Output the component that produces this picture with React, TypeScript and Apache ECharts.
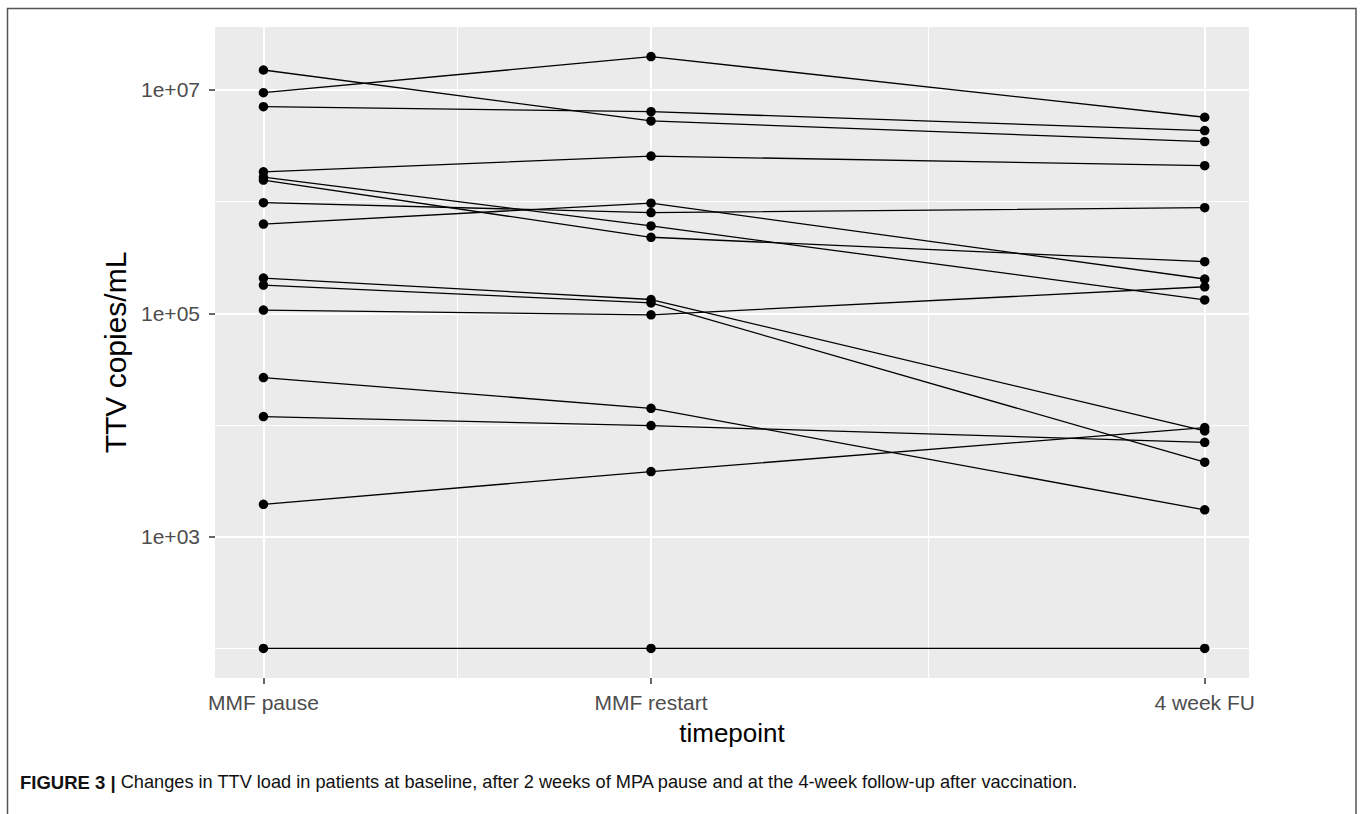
import React, { useEffect, useRef } from 'react';
import * as echarts from 'echarts';

// ---- data ----
const timepointLabels = ['MMF pause', 'MMF restart', '4 week FU'];
const timepointDays = [0, 14, 34];
const minorDays = [7, 24];
const mmfPause = [1.51e7, 9.46e6, 7.09e6, 1.85e6, 1.66e6, 1.56e6, 9.8e5, 6.3e5, 2.07e5, 1.79e5, 1.07e5, 2.66e4, 1.19e4, 1.95e3, 100];
const mmfRestart = [5.28e6, 1.99e7, 6.4e6, 2.56e6, 6.06e5, 4.8e5, 7.98e5, 9.7e5, 1.33e5, 1.24e5, 9.7e4, 1.41e4, 9.88e3, 3.83e3, 100];
const fourWeekFU = [3.45e6, 5.7e6, 4.33e6, 2.1e6, 1.32e5, 2.9e5, 8.83e5, 2.03e5, 8.86e3, 4.65e3, 1.73e5, 1.74e3, 7.0e3, 9.5e3, 100];
const majorYTicks = [1e3, 1e5, 1e7];
const minorYTicks = [1e2, 1e4, 1e6];
const yTitle = 'TTV copies/mL';
const xTitle = 'timepoint';
const captionBold = 'FIGURE 3 |';
const captionText = 'Changes in TTV load in patients at baseline, after 2 weeks of MPA pause and at the 4-week follow-up after vaccination.';

const FONT = "'Liberation Sans', Arial, Helvetica, sans-serif";

export default function App() {
  const ref = useRef<HTMLDivElement>(null);

  useEffect(() => {
    if (!ref.current) return;
    const chart = echarts.init(ref.current, null, { renderer: 'svg' });
    const columns = [mmfPause, mmfRestart, fourWeekFU];
    const series = mmfPause.map((_, i) => ({
      type: 'line',
      xAxisIndex: 0,
      yAxisIndex: 0,
      data: timepointDays.map((d, j) => [d, columns[j][i]]),
      symbol: 'circle',
      symbolSize: 9.5,
      showSymbol: true,
      lineStyle: { color: '#000', width: 1.3 },
      itemStyle: { color: '#000' },
      silent: true,
      z: 3,
    }));

    const xMin = -1.75;
    const xMax = 35.6;
    const yMin = Math.pow(10, 1.735);
    const yMax = Math.pow(10, 7.564);
    const hiddenLine = { show: true, onZero: false, lineStyle: { color: 'rgba(0,0,0,0)', width: 0 } };
    const tickStyle = { color: '#333', width: 1.5 };

    chart.setOption({
      animation: false,
      backgroundColor: '#fff',
      grid: {
        left: 215,
        top: 27,
        width: 1034,
        height: 651,
        show: true,
        backgroundColor: '#EBEBEB',
        borderWidth: 0,
      },
      xAxis: [
        {
          type: 'value',
          min: xMin,
          max: xMax,
          position: 'bottom',
          axisLine: hiddenLine,
          axisTick: { show: true, inside: false, length: 6, lineStyle: tickStyle, customValues: timepointDays },
          axisLabel: {
            customValues: timepointDays,
            formatter: (v: number) => timepointLabels[timepointDays.indexOf(v)] ?? '',
            color: '#4D4D4D',
            fontSize: 21,
            fontFamily: FONT,
            margin: 14,
          },
          splitLine: { show: true, lineStyle: { color: '#fff', width: 2 } },
          name: xTitle,
          nameLocation: 'middle',
          nameGap: 42,
          nameTextStyle: { color: '#000', fontSize: 26, fontFamily: FONT },
        },
        {
          type: 'value',
          min: xMin,
          max: xMax,
          position: 'top',
          axisLine: { show: false, onZero: false },
          axisTick: { show: false, customValues: minorDays },
          axisLabel: { show: false, customValues: minorDays },
          splitLine: { show: true, lineStyle: { color: '#fff', width: 1 } },
        },
      ],
      yAxis: [
        {
          type: 'log',
          logBase: 10,
          min: yMin,
          max: yMax,
          position: 'left',
          axisLine: hiddenLine,
          axisTick: { show: true, inside: false, length: 6, lineStyle: tickStyle, customValues: majorYTicks },
          axisLabel: {
            customValues: majorYTicks,
            formatter: (v: number) => '1e+' + String(Math.round(Math.log10(v))).padStart(2, '0'),
            color: '#4D4D4D',
            fontSize: 21,
            fontFamily: FONT,
            margin: 15,
          },
          splitLine: { show: true, lineStyle: { color: '#fff', width: 2 } },
          name: yTitle,
          nameLocation: 'middle',
          nameGap: 79,
          nameRotate: 90,
          nameTextStyle: { color: '#000', fontSize: 30, fontFamily: FONT },
        },
        {
          type: 'log',
          logBase: 10,
          min: yMin,
          max: yMax,
          position: 'right',
          axisLine: { show: false, onZero: false },
          axisTick: { show: false, customValues: minorYTicks },
          axisLabel: { show: false, customValues: minorYTicks },
          splitLine: { show: true, lineStyle: { color: '#fff', width: 1 } },
        },
      ],
      graphic: [
        {
          type: 'rect',
          silent: true,
          shape: { x: 7.5, y: 8.5, width: 1348.5, height: 840 },
          style: { fill: 'none', stroke: '#555', lineWidth: 1.5 },
        },
        {
          type: 'text',
          silent: true,
          x: 20,
          y: 782,
          style: {
            text: '{b|' + captionBold + '} ' + captionText,
            rich: { b: { fontWeight: 'bold', fontSize: 18.5, fontFamily: FONT, fill: '#111' } },
            fontSize: 18.2,
            fontFamily: FONT,
            fill: '#111',
            verticalAlign: 'middle',
          },
        },
      ],
      series,
    });

    return () => {
      chart.dispose();
    };
  }, []);

  return (
    <div
      ref={ref}
      style={{ position: 'fixed', left: 0, top: 0, width: 1362, height: 814, background: '#fff' }}
    />
  );
}
